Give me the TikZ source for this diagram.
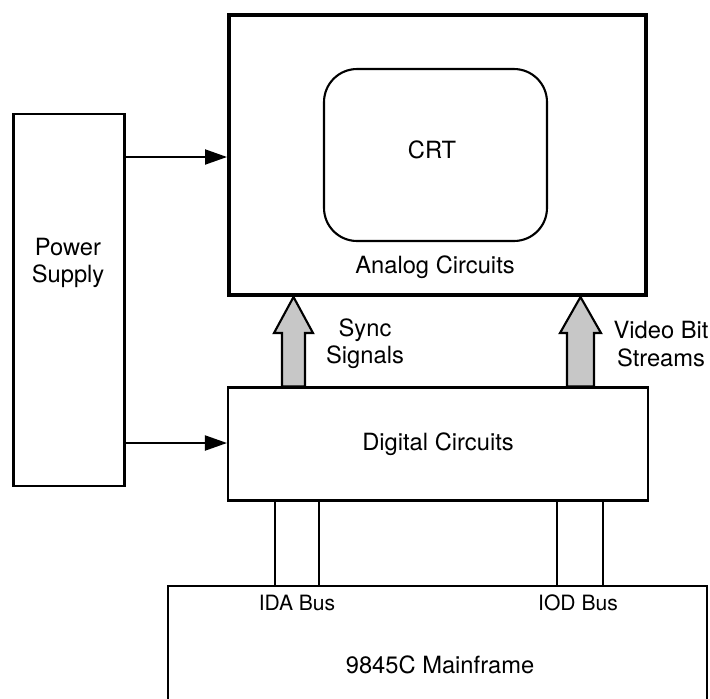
\documentclass[tikz,border=0pt]{standalone}
\usepackage{fontspec}
\setmainfont{TeX Gyre Heros}
\usetikzlibrary{arrows.meta}

\begin{document}
\begin{tikzpicture}[x=0.02cm, y=-0.02cm,
  box/.style={draw=black, line width=1.2pt, inner sep=0pt, font=\fontsize{13.5}{15.5}\selectfont, align=center},
  heavybox/.style={box, line width=2.3pt},
  lbl/.style={inner sep=0pt, align=center, font=\fontsize{13.5}{15.5}\selectfont},
  buslbl/.style={inner sep=0pt, font=\fontsize{12}{14}\selectfont},
  pwrarrow/.style={-{Triangle[length=0.44cm, width=0.3cm]}, line width=1.1pt},
  bus/.style={line width=1.1pt},
  sigarrow/.style={draw=black, line width=1.2pt, fill=black!22, line join=miter}
]
\useasboundingbox (0,0) rectangle (710,698);

\node[box, minimum width=2.22cm, minimum height=7.44cm] (psu) at (69,300) {};
\node[lbl] (psutext) at (68,263) {Power\\Supply};

\node[heavybox, minimum width=8.34cm, minimum height=5.6cm] (analog) at (437.5,155) {};
\node[box, rounded corners=0.66cm, minimum width=4.46cm, minimum height=3.44cm] (crt) at (435.5,155) {};
\node[lbl] (crttext) at (432,150) {CRT};
\node[lbl] (analogtext) at (435,267) {Analog Circuits};

\node[box, minimum width=8.4cm, minimum height=2.26cm] (digital) at (438,444) {Digital Circuits};

\node[box, minimum width=10.78cm, minimum height=2.88cm] (mainframe) at (437.5,658) {};
\node[lbl] (mainframetext) at (440,665) {9845C Mainframe};

% power feeds
\draw[pwrarrow] (psu.east |- 0,157) -- (analog.west |- 0,157);
\draw[pwrarrow] (psu.east |- 0,443) -- (digital.west |- 0,443);

% signals to the analog side
\draw[sigarrow] (282,0 |- digital.north) -- (282,333) -- (274,333) -- (293.5,0 |- analog.south)
  -- (313,333) -- (305,333) -- (305,0 |- digital.north) -- cycle;
\draw[sigarrow] (567,0 |- digital.north) -- (567,333) -- (560,333) -- (580.5,0 |- analog.south)
  -- (601,333) -- (594,333) -- (594,0 |- digital.north) -- cycle;
\node[lbl] (synctext) at (365,344) {Sync\\Signals};
\node[lbl] (videotext) at (661,344) {Video Bit\\Streams};

% buses
\draw[bus] (275,0 |- digital.south) -- (275,0 |- mainframe.north);
\draw[bus] (319,0 |- digital.south) -- (319,0 |- mainframe.north);
\draw[bus] (557,0 |- digital.south) -- (557,0 |- mainframe.north);
\draw[bus] (603,0 |- digital.south) -- (603,0 |- mainframe.north);
\node[buslbl] (idatext) at (297,603) {IDA Bus};
\node[buslbl] (iodtext) at (578,603) {IOD Bus};
\end{tikzpicture}
\end{document}
